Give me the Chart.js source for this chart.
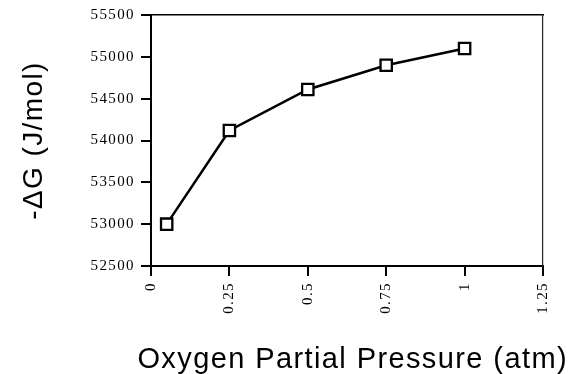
<!DOCTYPE html>
<html>
<head>
<meta charset="utf-8">
<script src="https://cdn.jsdelivr.net/npm/chart.js@4/dist/chart.umd.min.js"></script>
<style>
  html, body { margin: 0; padding: 0; background: #fff; }
  #wrap { width: 568px; height: 374px; }
</style>
</head>
<body>
<div id="wrap"><canvas id="myChart"></canvas></div>
<script>
// values
const pressure = [0.05, 0.25, 0.5, 0.75, 1];
const deltaG = [53000, 54120, 54610, 54900, 55100];
const xTickLabels = ['0', '0.25', '0.5', '0.75', '1', '1.25'];
const yTickLabels = ['52500', '53000', '53500', '54000', '54500', '55000', '55500'];

const ctx = document.getElementById('myChart');

// the scanned figure looks slightly stretched sideways, so widen the text a bit
const spacing = {
  id: 'spacing',
  beforeInit(chart) { chart.ctx.letterSpacing = '1.4px'; },
  beforeDraw(chart) { chart.ctx.letterSpacing = '1.4px'; }
};

const tickFont = { family: 'Liberation Serif', size: 15 };

const data = {
  datasets: [{
    data: pressure.map((p, i) => ({ x: p, y: deltaG[i] })),
    borderColor: '#000',
    borderWidth: 2.5,
    pointStyle: 'rect',
    pointRadius: 8,
    pointBorderWidth: 2.3,
    pointBackgroundColor: '#fff',
    pointBorderColor: '#000',
    tension: 0
  }]
};

const config = {
  type: 'line',
  data: data,
  plugins: [spacing],
  options: {
    responsive: true,
    maintainAspectRatio: false,
    animation: false,
    layout: { padding: { left: 0, top: 15, right: 0, bottom: 0 } },
    plugins: {
      legend: { display: false },
      tooltip: { enabled: false },
      // x axis title lives in the chart title box so it can run past the plot width
      title: {
        display: true,
        position: 'bottom',
        align: 'end',
        text: 'Oxygen Partial Pressure (atm)',
        color: '#000',
        font: { family: 'Liberation Sans', size: 29, weight: 'normal', lineHeight: 1 },
        padding: { top: 0, bottom: 0 }
      }
    },
    scales: {
      x: {
        type: 'linear',
        position: 'bottom',
        min: 0,
        max: 1.25,
        afterBuildTicks(scale) {
          scale.ticks = xTickLabels.map(v => ({ value: Number(v) }));
        },
        afterFit(scale) { scale.height = 79; },
        ticks: {
          minRotation: 90,
          maxRotation: 90,
          padding: 6,
          color: '#000',
          font: tickFont,
          callback: (v, i) => xTickLabels[i]
        },
        grid: {
          drawOnChartArea: false,
          drawTicks: true,
          tickLength: 10,
          color: '#000',
          lineWidth: 2
        },
        border: { color: '#000', width: 2 }
      },
      y: {
        type: 'linear',
        position: 'left',
        min: 52500,
        max: 55500,
        afterBuildTicks(scale) {
          scale.ticks = yTickLabels.map(v => ({ value: Number(v) }));
        },
        afterFit(scale) { scale.width = 151; },
        ticks: {
          padding: 6,
          color: '#000',
          font: tickFont,
          callback: (v, i) => yTickLabels[i]
        },
        grid: {
          drawOnChartArea: false,
          drawTicks: true,
          tickLength: 10,
          color: '#000',
          lineWidth: 2
        },
        border: { color: '#000', width: 2 },
        title: {
          display: true,
          text: '-\u0394G (J/mol)',
          color: '#000',
          font: { family: 'Liberation Sans', size: 28, lineHeight: 1 },
          padding: { top: 20, bottom: 0 }
        }
      },
      xTop: {
        type: 'linear',
        position: 'top',
        ticks: { display: false },
        grid: { drawOnChartArea: false, drawTicks: false },
        border: { color: '#000', width: 1.5 },
        afterFit(scale) { scale.height = 0; }
      },
      yRight: {
        type: 'linear',
        position: 'right',
        ticks: { display: false },
        grid: { drawOnChartArea: false, drawTicks: false },
        border: { color: '#222', width: 1.2 },
        afterFit(scale) { scale.width = 25; }
      }
    }
  }
};

var myChart = new Chart(ctx, config);
</script>
</body>
</html>
